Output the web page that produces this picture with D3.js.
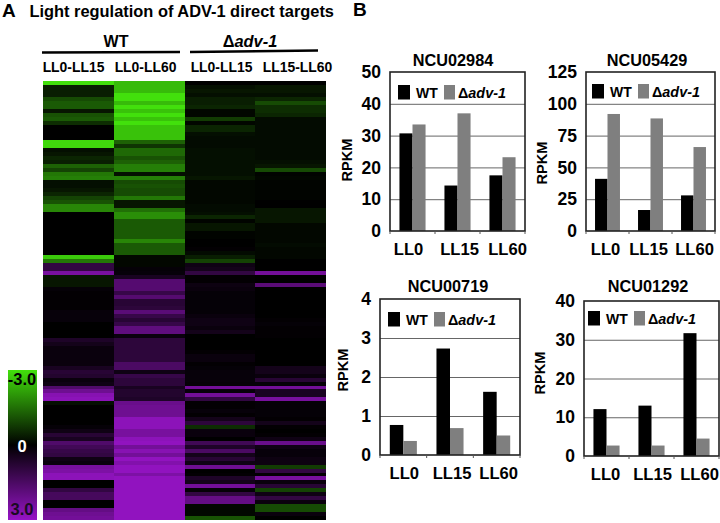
<!DOCTYPE html>
<html>
<head>
<meta charset="utf-8">
<script src="https://cdn.jsdelivr.net/npm/d3@7"></script>
<style>
  html, body { margin: 0; padding: 0; background: #fff; }
  svg { display: block; }
  text { font-family: "Liberation Sans", Arial, sans-serif; font-weight: bold; fill: #000; }
</style>
</head>
<body>
<div id="d3-container"></div>
<script>
/**
 * DATA
 * */
// heatmap columns, top row to bottom row, log2 ratio
const wtLL0LL15 = [
  -3,-.4,-.4,-.4,-1,-1.2,-1.2,-.3,-1.1,-1.2,
  -.6,0,0,0,0,-2.9,-2.9,-.2,-.3,-.5,
  -.4,-1.3,-.9,-1.6,-1.7,-.2,-.2,-.3,-.5,-.9,
  -1.1,-1.8,-1.8,0,0,0,0,0,0,0,
  0,0,0,0,-2.7,-1.6,1,1,2.4,-.3,
  -.3,-.3,.1,.05,.05,.05,.05,.05,.15,.15,
  .15,0,0,0,0,.6,.4,.2,.2,.2,
  .2,.2,.5,.8,.7,.2,.3,1.6,2.2,2.7,
  2.8,-.2,0,0,0,0,0,.1,.3,.8,
  .5,1.6,1.3,1.1,1,.3,.2,2.4,2.5,2.8,
  2.8,0,0,1,1.4,1.4,0,0,2,2.2,2.3
];
const wtLL0LL60 = [
  -2.5,-2.5,-2.5,-3,-3,-2.5,-3,-2.6,-3,-2.6,
  -3,-2.6,-2.6,-2.6,-2.6,-1.3,-.7,-1.4,-1.4,-1.1,
  -1.3,-1.7,-1.7,-.2,-1.7,-1,-1.1,-1,-1,-1.6,
  -.3,-.3,-1.5,-1.9,-1.9,-1.2,-1.2,-1.2,-1.2,-1.2,
  -1.8,-1.2,-1.2,-1.2,-.1,-.1,-.1,.1,.15,.5,
  1.7,1.7,1.7,1.1,1.7,.8,.8,.9,1.8,1.1,
  .8,1.1,1.9,1.9,.2,.9,.9,.9,.9,.9,
  .9,1.5,1.5,.3,1.1,.9,.9,.5,.7,.7,
  .6,2.1,2.2,2.2,2.2,2.8,2.8,2.8,2.4,2.4,
  2.8,2.9,2.3,2.7,2.3,2.9,2.6,2.9,2.9,2.5,
  2.9,2.9,2.9,2.9,2.9,2.9,2.9,2.9,2.9,2.9,2.9
];
const koLL0LL15 = [
  0,-.2,-.3,-.2,-.4,-.4,-.5,-.1,-.1,-.8,
  -.1,-.5,-.5,-.2,-.15,-.15,-.15,-.2,-.2,-.2,
  -.2,-.2,-.2,-.2,-.3,-.1,-.1,-.1,-.1,-.1,
  -.1,-.15,-.15,-.2,-.5,-.05,-.3,-.3,-.05,-.05,
  0,0,.05,-.15,-.4,-.9,.3,.4,1,.05,
  .05,.25,.2,.1,.1,.1,.1,.1,.1,.2,
  .3,.3,.2,.4,0,0,0,0,.05,.2,
  .2,.05,.1,.15,.15,.15,.1,2.3,.15,2.3,
  1,.05,.05,.15,.05,.4,.9,-.6,.2,.2,
  0,1.3,.6,1.5,.4,.8,.3,2.2,0,.05,
  .6,.4,2.3,.1,1,2,2,-.1,-.1,-.1,-1.1
];
const koLL15LL60 = [
  0,-.3,-.3,-.2,-.5,-1,-.6,-.6,-.5,-.15,
  -.15,-.15,-.15,-.15,-.15,-.15,-.15,-.15,-.15,-.15,
  -.2,-.3,-1,-.05,-.1,-.05,-.05,-.05,-.05,-.05,
  0,0,-.3,-.3,-.3,-.3,-.1,-.1,-.1,-.1,
  -.1,-.15,-.1,-.1,-.1,0,0,0,2.3,0,
  0,1.8,0,0,0,0,0,0,0,0,
  .05,.1,.05,.05,.05,0,0,0,0,0,
  0,0,.4,.4,.2,.8,.1,2.3,.5,.5,
  2.4,.1,.1,.1,.1,.05,.4,.05,0,.05,
  .3,2.1,.3,.15,.15,.25,.25,-.8,1,.05,
  2.4,.2,.8,-.9,.3,1,.2,-1,-1,.2,0
];
const heatColumns = [wtLL0LL15, wtLL0LL60, koLL0LL15, koLL15LL60];
const columnLabels = ["LL0-LL15", "LL0-LL60", "LL0-LL15", "LL15-LL60"];
const colorStops = [-3, 0, 3];

// bar panels
const genes = ["NCU02984", "NCU05429", "NCU00719", "NCU01292"];
const timepoints = ["LL0", "LL15", "LL60"];
const seriesNames = ["WT", "adv-1"];
const wtRpkm = [[30.7, 14.3, 17.5], [41, 16.5, 28], [0.77, 2.73, 1.62], [12.1, 13, 31.7]];
const koRpkm = [[33.5, 37, 23.2], [92, 88.5, 66], [0.36, 0.69, 0.5], [2.7, 2.7, 4.5]];
const yTicks = [[0, 10, 20, 30, 40, 50], [0, 25, 50, 75, 100, 125], [0, 1, 2, 3, 4], [0, 10, 20, 30, 40]];

/**
 * LAYOUT
 * */
const width = 720, height = 523;
const heatBox = { x0: 43, x1: 326, y0: 81, y1: 520 };
// catShift nudges the category labels, they are not centred under the bars in the original
const panelBoxes = [
  { x0: 390, x1: 525, y0: 72, y1: 231, titleX: 453, titleY: 66, labelX: 351.5, labelY: 160, keyX: 398, keyY: 85, catShift: [-4, 2, 5] },
  { x0: 586, x1: 715, y0: 72, y1: 231, titleX: 647, titleY: 66, labelX: 547, labelY: 163, keyX: 592, keyY: 84, catShift: [-2, -2, 1] },
  { x0: 380, x1: 520, y0: 299, y1: 455, titleX: 448, titleY: 292, labelX: 348, labelY: 370, keyX: 388, keyY: 312, catShift: [1, 2, 2] },
  { x0: 584, x1: 719, y0: 301, y1: 456, titleX: 648, titleY: 292, labelX: 544.5, labelY: 373, keyX: 588, keyY: 311, catShift: [-1, 1, 3] }
];
const grey = "#7f7f7f";

const svg = d3.select("#d3-container")
  .append("svg")
  .attr("width", width)
  .attr("height", height);

/**
 * PANEL A - HEADERS
 * */
svg.append("text").attr("x", 2).attr("y", 17).attr("font-size", 19).text("A");
svg.append("text").attr("x", 29.5).attr("y", 17).attr("font-size", 16.4)
  .text("Light regulation of ADV-1 direct targets");

svg.append("text").attr("x", 116).attr("y", 47).attr("font-size", 16)
  .attr("text-anchor", "middle").text("WT");
const koHead = svg.append("text").attr("x", 250).attr("y", 47).attr("font-size", 16.4)
  .attr("text-anchor", "middle");
koHead.append("tspan").text("Δ");
koHead.append("tspan").attr("font-style", "italic").text("adv-1");

svg.append("line").attr("x1", 42).attr("x2", 180).attr("y1", 52.5).attr("y2", 52)
  .attr("stroke", "#000").attr("stroke-width", 2.6);
svg.append("line").attr("x1", 190).attr("x2", 318).attr("y1", 52).attr("y2", 50.5)
  .attr("stroke", "#000").attr("stroke-width", 2.6);

const columnLabelX = [73.5, 145.5, 221.5, 297.5];
svg.selectAll("text.col-label")
  .data(columnLabels)
  .join("text")
  .attr("class", "col-label")
  .attr("x", (d, i) => columnLabelX[i])
  .attr("y", 72)
  .attr("font-size", 13.9)
  .attr("text-anchor", "middle")
  .text(d => d);

/**
 * PANEL A - HEATMAP
 * */
const colorScale = d3.scaleLinear()
  .domain(colorStops)
  .range(["#42e00c", "#000000", "#9614c6"]);

const colX = d3.scaleBand()
  .domain(d3.range(heatColumns.length))
  .range([heatBox.x0, heatBox.x1]);
const rowY = d3.scaleBand()
  .domain(d3.range(wtLL0LL15.length))
  .range([heatBox.y0, heatBox.y1]);

svg.selectAll("g.heat-col")
  .data(heatColumns)
  .join("g")
  .attr("class", "heat-col")
  .attr("transform", (d, i) => `translate(${colX(i)},0)`)
  .selectAll("rect")
  .data(d => d)
  .join("rect")
  .attr("y", (d, i) => rowY(i))
  .attr("width", colX.bandwidth())
  .attr("height", rowY.bandwidth())
  .attr("shape-rendering", "crispEdges")
  .attr("fill", d => colorScale(d));

// colour key
const keyBox = { x0: 8, x1: 37, y0: 370, y1: 520 };
const defs = svg.append("defs");
const keyGradient = defs.append("linearGradient")
  .attr("id", "key-gradient")
  .attr("x1", 0).attr("x2", 0).attr("y1", 0).attr("y2", 1);
keyGradient.selectAll("stop")
  .data(colorStops)
  .join("stop")
  .attr("offset", (d, i) => i / (colorStops.length - 1))
  .attr("stop-color", d => colorScale(d));
svg.append("rect")
  .attr("x", keyBox.x0).attr("y", keyBox.y0)
  .attr("width", keyBox.x1 - keyBox.x0).attr("height", keyBox.y1 - keyBox.y0)
  .attr("fill", "url(#key-gradient)");

svg.append("text").attr("x", 22).attr("y", 385).attr("font-size", 16.5)
  .attr("text-anchor", "middle").text("-3.0");
svg.append("text").attr("x", 22).attr("y", 452).attr("font-size", 16.5)
  .attr("text-anchor", "middle").style("fill", "#fff").text("0");
svg.append("text").attr("x", 22).attr("y", 515).attr("font-size", 16.5)
  .attr("text-anchor", "middle").style("fill", "#1a0a22").text("3.0");

/**
 * PANEL B - BARS
 * */
svg.append("text").attr("x", 353).attr("y", 16).attr("font-size", 19).text("B");

genes.forEach((gene, p) => {
  const box = panelBoxes[p];
  const yMax = d3.max(yTicks[p]);

  const x = d3.scaleBand()
    .domain(timepoints)
    .range([box.x0, box.x1])
    .paddingInner(0.42)
    .paddingOuter(0.21);
  const xSeries = d3.scaleBand()
    .domain(seriesNames)
    .range([0, x.bandwidth()]);
  const y = d3.scaleLinear()
    .domain([0, yMax])
    .range([box.y1, box.y0]);

  const g = svg.append("g").attr("class", "panel");

  // gridlines
  g.append("g")
    .selectAll("line")
    .data(yTicks[p].filter(d => d > 0 && d < yMax))
    .join("line")
    .attr("x1", box.x0).attr("x2", box.x1)
    .attr("y1", d => y(d) + 0.5).attr("y2", d => y(d) + 0.5)
    .attr("stroke", "#666");

  // bars
  const rows = timepoints.map((t, i) => ({ t, wt: wtRpkm[p][i], ko: koRpkm[p][i] }));
  g.append("g")
    .selectAll("g")
    .data(rows)
    .join("g")
    .attr("transform", d => `translate(${x(d.t)},0)`)
    .selectAll("rect")
    .data(d => [{ s: seriesNames[0], v: d.wt }, { s: seriesNames[1], v: d.ko }])
    .join("rect")
    .attr("x", d => xSeries(d.s))
    .attr("width", xSeries.bandwidth())
    .attr("y", d => y(d.v))
    .attr("height", d => y(0) - y(d.v))
    .attr("fill", d => d.s === "WT" ? "#000" : grey);

  // frame
  g.append("rect")
    .attr("x", box.x0).attr("y", box.y0)
    .attr("width", box.x1 - box.x0).attr("height", box.y1 - box.y0)
    .attr("fill", "none").attr("stroke", "#222").attr("stroke-width", 1.6);

  // y axis
  const yAxis = g.append("g")
    .attr("transform", `translate(${box.x0},0)`)
    .call(d3.axisLeft(y).tickValues(yTicks[p]).tickFormat(d3.format("d")).tickSize(0).tickPadding(9));
  yAxis.select(".domain").remove();
  yAxis.selectAll("text").attr("font-size", 17.5).attr("font-family", null);

  // x axis, ticks sit on the category boundaries
  const xAxis = g.append("g")
    .attr("transform", `translate(0,${box.y1})`)
    .call(d3.axisBottom(x).tickSize(0).tickPadding(12));
  xAxis.select(".domain").remove();
  xAxis.selectAll("text")
    .attr("font-size", 16.6)
    .attr("font-family", null)
    .attr("dx", (d, i) => box.catShift[i]);
  g.append("g")
    .selectAll("line")
    .data(d3.range(timepoints.length + 1))
    .join("line")
    .attr("x1", d => box.x0 + d * (box.x1 - box.x0) / timepoints.length)
    .attr("x2", d => box.x0 + d * (box.x1 - box.x0) / timepoints.length)
    .attr("y1", box.y1).attr("y2", box.y1 + 3)
    .attr("stroke", "#555");

  // labels
  g.append("text").attr("x", box.titleX).attr("y", box.titleY)
    .attr("font-size", 16.3).attr("text-anchor", "middle").text(gene);
  g.append("text")
    .attr("transform", `translate(${box.labelX},${box.labelY}) rotate(-90)`)
    .attr("font-size", 14.6).attr("text-anchor", "middle").text("RPKM");

  // key
  g.append("rect").attr("x", box.keyX).attr("y", box.keyY)
    .attr("width", 12).attr("height", 14.5).attr("fill", "#000");
  g.append("text").attr("x", box.keyX + 18).attr("y", box.keyY + 12.5)
    .attr("font-size", 14).text(seriesNames[0]);
  g.append("rect").attr("x", box.keyX + 46).attr("y", box.keyY)
    .attr("width", 11).attr("height", 14.5).attr("fill", grey);
  const koKey = g.append("text").attr("x", box.keyX + 60).attr("y", box.keyY + 12.5)
    .attr("font-size", 14.4);
  koKey.append("tspan").text("Δ");
  koKey.append("tspan").attr("font-style", "italic").text(seriesNames[1]);
});
</script>
</body>
</html>
